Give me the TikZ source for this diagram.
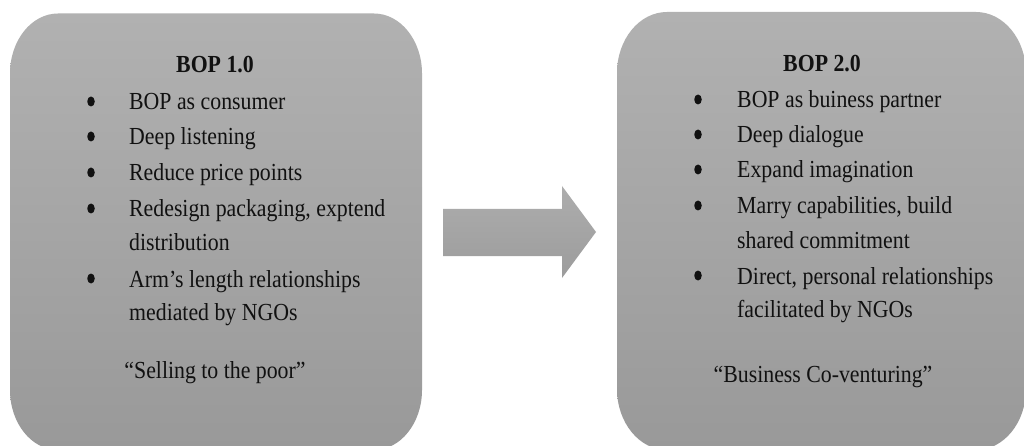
\documentclass[tikz,border=0pt]{standalone}
\usepackage{fontspec}
\setmainfont[FakeStretch=0.89]{Liberation Serif}
\usetikzlibrary{shapes.geometric}
\definecolor{boxtop}{RGB}{177,177,177}
\definecolor{boxbot}{RGB}{153,153,153}
\definecolor{arrtop}{RGB}{173,173,173}
\definecolor{arrbot}{RGB}{156,156,156}
\definecolor{ink}{RGB}{17,17,17}
\tikzset{
  panel/.style={top color=boxtop, bottom color=boxbot, draw=none},
  blockarrow/.style={top color=arrtop, bottom color=arrbot, draw=none},
  line/.style={font=\fontsize{24.5}{28}\selectfont, text=ink, inner sep=0pt, anchor=base west},
  heading/.style={font=\fontsize{24.5}{28}\selectfont\bfseries, text=ink, inner sep=0pt, anchor=base},
  motto/.style={font=\fontsize{24.5}{28}\selectfont, text=ink, inner sep=0pt, anchor=base},
  dot/.style={ellipse, fill=ink, draw=none, inner sep=0pt, minimum width=7.5pt, minimum height=10pt},
}
\begin{document}
\begin{tikzpicture}[x=1pt, y=-1pt]
\useasboundingbox (0,0) rectangle (1024,446);
\fill[white] (0,0) rectangle (1024,446);
\begin{scope}
\clip (0,0) rectangle (1024,446);
% left panel
\shade[panel] (10,73.5) .. controls (10,40.4) and (31.5,13.5) .. (58,13.5)
  -- (374,13.5) .. controls (400.5,13.5) and (422,40.4) .. (422,73.5)
  -- (422,390) .. controls (422,423.1) and (400.5,450) .. (374,450)
  -- (58,450) .. controls (31.5,450) and (10,423.1) .. (10,390) -- cycle;
% right panel
\shade[panel] (617,73) .. controls (617,39.3) and (639.4,12) .. (667,12)
  -- (976,12) .. controls (1003.6,12) and (1026,39.3) .. (1026,73)
  -- (1026,389) .. controls (1026,422.7) and (1003.6,450) .. (976,450)
  -- (667,450) .. controls (639.4,450) and (617,422.7) .. (617,389) -- cycle;
\end{scope}
% block arrow between the panels
\shade[blockarrow] (443,209) -- (562,209) -- (562,186) -- (596,232)
  -- (562,278) -- (562,256) -- (443,256) -- cycle;

% left panel text
\node[heading] (t1) at (215,73) {BOP 1.0};
\node[dot] (b11) at (91,101.5) {};
\node[line] (l11) at (129,110) {BOP as consumer};
\node[dot] (b12) at (91,136.5) {};
\node[line] (l12) at (129,145) {Deep listening};
\node[dot] (b13) at (91,172.5) {};
\node[line] (l13) at (129,181) {Reduce price points};
\node[dot] (b14) at (91,208.5) {};
\node[line] (l14) at (129,217) {Redesign packaging, exptend};
\node[line] (l14b) at (129,251) {distribution};
\node[dot] (b15) at (91,278.5) {};
\node[line] (l15) at (129,287) {Arm’s length relationships};
\node[line] (l15b) at (129,320) {mediated by NGOs};
\node[motto] (q1) at (215,378) {“Selling to the poor”};

% right panel text
\node[heading] (t2) at (822,72) {BOP 2.0};
\node[dot] (b21) at (698,99.5) {};
\node[line] (l21) at (737,108) {BOP as buiness partner};
\node[dot] (b22) at (698,134.5) {};
\node[line] (l22) at (737,143) {Deep dialogue};
\node[dot] (b23) at (698,169.5) {};
\node[line] (l23) at (737,178) {Expand imagination};
\node[dot] (b24) at (698,205.5) {};
\node[line] (l24) at (737,214) {Marry capabilities, build};
\node[line] (l24b) at (737,248) {shared commitment};
\node[dot] (b25) at (698,275.5) {};
\node[line] (l25) at (737,284) {Direct, personal relationships};
\node[line] (l25b) at (737,317) {facilitated by NGOs};
\node[motto] (q2) at (823,382) {“Business Co-venturing”};
\end{tikzpicture}
\end{document}
